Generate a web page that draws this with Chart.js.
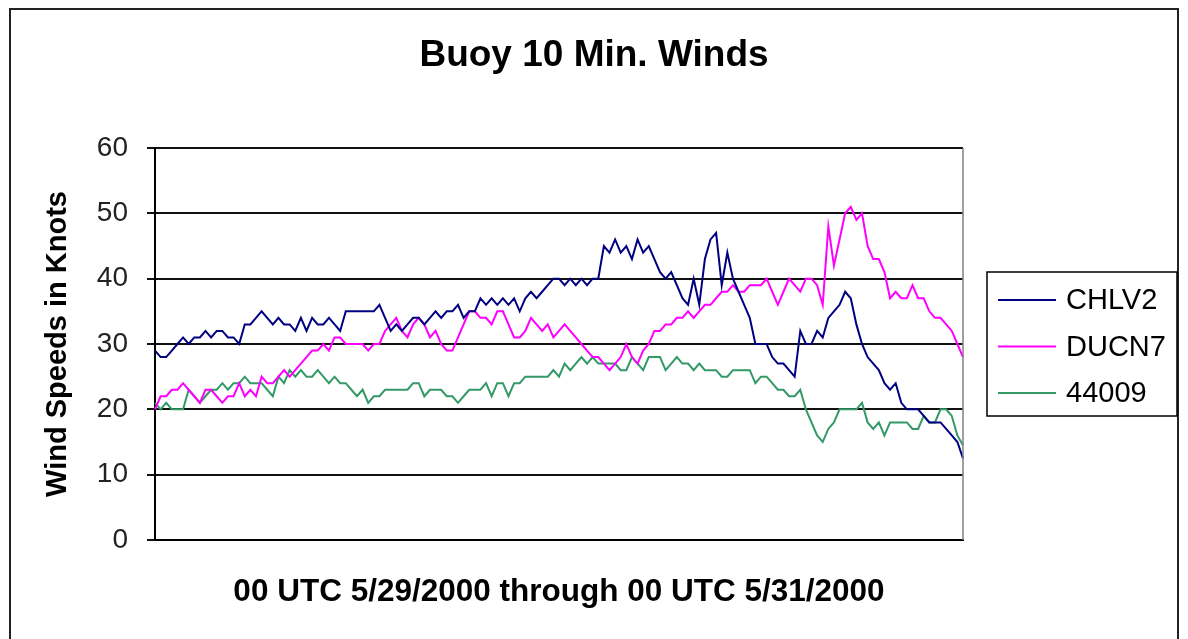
<!DOCTYPE html>
<html><head><meta charset="utf-8">
<script src="https://cdn.jsdelivr.net/npm/chart.js@4/dist/chart.umd.min.js"></script>
<style>html,body{margin:0;padding:0;background:#fff;overflow:hidden;} #wrap{width:1188px;height:639px;position:relative;}</style>
</head><body><div id="wrap"><canvas id="c" width="1188" height="639"></canvas></div>
<script>
// ---- data (20-minute samples, 00 UTC 5/29/2000 .. 00 UTC 5/31/2000) ----
const seriesNames = ['CHLV2', 'DUCN7', '44009'];
const yTicks = [0, 10, 20, 30, 40, 50, 60];
const chlv2 = [29,28,28,29,30,31,30,31,31,32,31,32,32,31,31,30,33,33,34,35,
  34,33,34,33,33,32,34,32,34,33,33,34,33,32,35,35,35,35,35,35,
  36,34,32,33,32,33,34,34,33,34,35,34,35,35,36,34,35,35,37,36,
  37,36,37,36,37,35,37,38,37,38,39,40,40,39,40,39,40,39,40,40,
  45,44,46,44,45,43,46,44,45,43,41,40,41,39,37,36,40,36,43,46,
  47,39,44,40,38,36,34,30,30,30,28,27,27,26,25,32,30,30,32,31,
  34,35,36,38,37,33,30,28,27,26,24,23,24,21,20,20,20,19,18,18,
  18,17,16,15,12.5];
const ducn7 = [20,22,22,23,23,24,23,22,21,23,23,22,21,22,22,24,22,23,22,25,
  24,24,25,26,25,26,27,28,29,29,30,29,31,31,30,30,30,30,29,30,
  30,32,33,34,32,31,33,34,33,31,32,30,29,29,31,33,35,35,34,34,
  33,35,35,33,31,31,32,34,33,32,33,31,32,33,32,31,30,29,28,28,
  27,26,27,28,30,28,27,29,30,32,32,33,33,34,34,35,34,35,36,36,
  37,38,38,39,38,38,39,39,39,40,38,36,38,40,39,38,40,40,39,36,
  48,42,46,50,51,49,50,45,43,43,41,37,38,37,37,39,37,37,35,34,
  34,33,32,30,28];
const buoy44009 = [21,20,21,20,20,20,23,22,21,22,23,23,24,23,24,24,25,24,24,24,
  23,22,25,24,26,25,26,25,25,26,25,24,25,24,24,23,22,23,21,22,
  22,23,23,23,23,23,24,24,22,23,23,23,22,22,21,22,23,23,23,24,
  22,24,24,22,24,24,25,25,25,25,25,26,25,27,26,27,28,27,28,27,
  27,27,27,26,26,28,27,26,28,28,28,26,27,28,27,27,26,27,26,26,
  26,25,25,26,26,26,26,24,25,25,24,23,23,22,22,23,20,18,16,15,
  17,18,20,20,20,20,21,18,17,18,16,18,18,18,18,17,17,19,18,18,
  20,20,19,16,14.5];
const seriesColors = ['#000080', '#ff00ff', '#339966'];

// category labels: 20-minute steps
const categories = [];
(function(){
  const start = Date.UTC(2000, 4, 29, 0, 0);
  for (let i = 0; i < chlv2.length; i++) {
    const d = new Date(start + i * 20 * 60000);
    const hh = String(d.getUTCHours()).padStart(2,'0');
    const mm = String(d.getUTCMinutes()).padStart(2,'0');
    categories.push((d.getUTCMonth()+1) + '/' + d.getUTCDate() + ' ' + hh + ':' + mm + ' UTC');
  }
})();

const FONT = "'Liberation Sans', Arial, Helvetica, sans-serif";

const decor = {
  id: 'decor',
  beforeDraw(chart) {
    const ctx = chart.ctx;
    ctx.save();
    ctx.fillStyle = '#ffffff';
    ctx.fillRect(0, 0, chart.width, chart.height);
    // outer frame
    ctx.strokeStyle = '#222';
    ctx.lineWidth = 2;
    ctx.strokeRect(10, 9, 1168, 640);
    ctx.restore();
  },
  afterDraw(chart) {
    const ctx = chart.ctx;
    const a = chart.chartArea;
    ctx.save();
    // plot area right edge
    ctx.strokeStyle = '#808080';
    ctx.lineWidth = 1.5;
    ctx.beginPath();
    ctx.moveTo(a.right, a.top);
    ctx.lineTo(a.right, a.bottom);
    ctx.stroke();
    // legend box
    const lx = 987, ly = 272, lw = 190, lh = 144;
    ctx.strokeStyle = '#000';
    ctx.lineWidth = 1.5;
    ctx.strokeRect(lx, ly, lw, lh);
    ctx.font = '29px ' + FONT;
    ctx.textBaseline = 'middle';
    ctx.textAlign = 'left';
    chart.data.datasets.forEach((ds, i) => {
      const y = 300 + i * 46.5;
      ctx.strokeStyle = ds.borderColor;
      ctx.lineWidth = 2;
      ctx.beginPath();
      ctx.moveTo(998, y);
      ctx.lineTo(1056, y);
      ctx.stroke();
      ctx.fillStyle = '#000';
      ctx.fillText(ds.label, 1066, y + 1);
    });
    ctx.restore();
  }
};

new Chart(document.getElementById('c'), {
  type: 'line',
  data: {
    labels: categories,
    datasets: [
      { label: seriesNames[0], data: chlv2, borderColor: seriesColors[0] },
      { label: seriesNames[1], data: ducn7, borderColor: seriesColors[1] },
      { label: seriesNames[2], data: buoy44009, borderColor: seriesColors[2] }
    ].map(d => Object.assign(d, { borderWidth: 2, pointRadius: 0, tension: 0, fill: false, yAxisID: 'y', xAxisID: 'x' }))
  },
  options: {
    responsive: false,
    devicePixelRatio: 1,
    animation: false,
    layout: { padding: { left: 0, right: 0, top: 0, bottom: 0 } },
    plugins: {
      legend: { display: false },
      tooltip: { enabled: false },
      title: {
        display: true,
        text: 'Buoy 10 Min. Winds',
        color: '#000',
        font: { family: FONT, size: 37, weight: 'bold', lineHeight: 1.2 },
        padding: { top: 34, bottom: 69.6 }
      }
    },
    scales: {
      x: {
        type: 'category',
        offset: false,
        grid: { display: false },
        ticks: { display: false },
        border: { display: true, color: '#000', width: 2 },
        title: {
          display: true,
          text: '00 UTC 5/29/2000 through 00 UTC 5/31/2000',
          color: '#000',
          font: { family: FONT, size: 31.5, weight: 'bold', lineHeight: 1.2 },
          padding: { top: 0, bottom: 28 }
        },
        afterFit(s) { s.height = 99; }
      },
      y: {
        position: 'left',
        min: 0, max: 60,
        afterBuildTicks(s) { s.ticks = yTicks.map(v => ({ value: v })); },
        ticks: { color: '#222', font: { family: FONT, size: 28 }, padding: 19 },
        grid: { color: '#111', lineWidth: 2, tickLength: 8, drawTicks: true },
        border: { display: true, color: '#000', width: 2 },
        title: {
          display: true,
          text: 'Wind Speeds in Knots',
          color: '#000',
          font: { family: FONT, size: 29, weight: 'bold', lineHeight: 1.2 },
          padding: { top: 41, bottom: 0 }
        },
        afterFit(s) { s.width = 155; }
      },
      yR: {
        position: 'right',
        display: true,
        grid: { display: false, drawTicks: false },
        ticks: { display: false },
        border: { display: false },
        afterFit(s) { s.width = 225; }
      }
    }
  },
  plugins: [decor]
});
</script>
</body></html>
